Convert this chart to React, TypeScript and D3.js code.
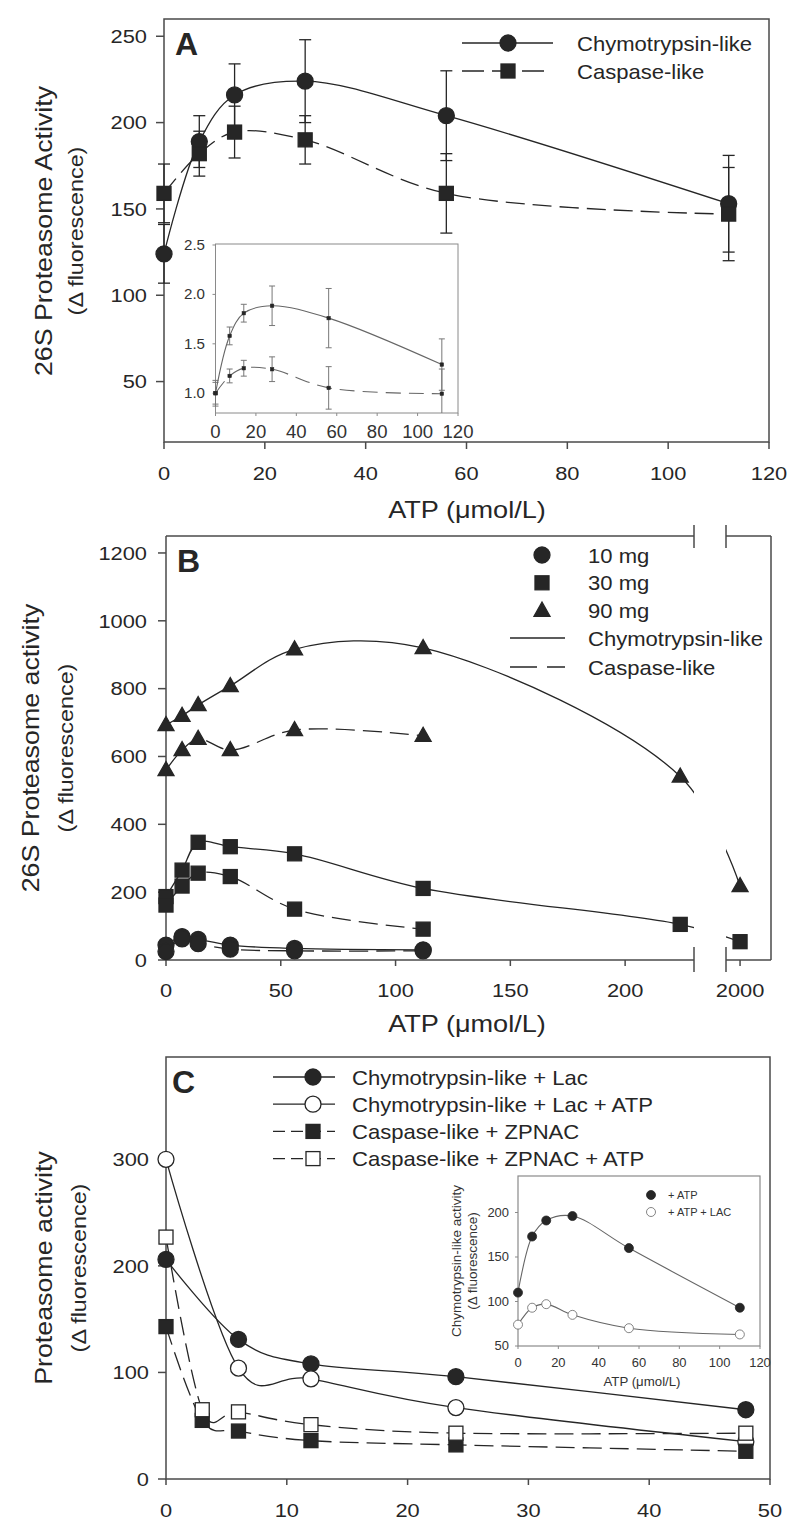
import React from 'react';
import * as d3 from 'd3';

// ---------------- Panel A data ----------------
const A_ATP = [0, 7, 14, 28, 56, 112];
const A_CHYMO = [124, 189, 216, 224, 204, 153];
const A_CHYMO_SE = [17, 15, 18, 24, 26, 28];
const A_CASP = [159, 182, 194.5, 190, 159, 147];
const A_CASP_SE = [17, 13, 15, 14, 23, 27];
const A_XTICKS = [0, 20, 40, 60, 80, 100, 120];
const A_YTICKS = [50, 100, 150, 200, 250];

// Panel A inset
const AI_CHYMO = [1.0, 1.58, 1.81, 1.885, 1.76, 1.29];
const AI_CHYMO_SE = [0.13, 0.09, 0.09, 0.2, 0.3, 0.26];
const AI_CASP = [1.0, 1.175, 1.253, 1.243, 1.054, 0.995];
const AI_CASP_SE = [0.11, 0.07, 0.08, 0.125, 0.215, 0.25];
const AI_XTICKS = [0, 20, 40, 60, 80, 100, 120];
const AI_YTICKS = [1.0, 1.5, 2.0, 2.5];

// ---------------- Panel B data ----------------
const B_ATP = [0, 7, 14, 28, 56, 112, 224, 2000];
const B_10MG_CHYMO = [44, 69, 61, 44, 34, 30];
const B_10MG_CASP = [25, 62, 48, 32, 27, 27];
const B_30MG_CHYMO = [187, 265, 347, 334, 313, 211, 105, 54];
const B_30MG_CASP = [162, 218, 256, 246, 150, 91];
const B_90MG_CHYMO = [693, 720, 752, 808, 916, 920, 541, 218];
const B_90MG_CASP = [560, 619, 652, 619, 678, 661];
const B_XTICKS = [0, 50, 100, 150, 200];
const B_XTICKS_HIGH = [2000];
const B_YTICKS = [0, 200, 400, 600, 800, 1000, 1200];
const B_LEGEND_DOSE = ['10 mg', '30 mg', '90 mg'];

// ---------------- Panel C data ----------------
const C_TIME_LAC = [0, 6, 12, 24, 48];
const C_CHYMO_LAC = [206, 131, 108, 96, 65];
const C_CHYMO_LAC_ATP = [300, 104, 94, 67, 35];
const C_TIME_ZPNAC = [0, 3, 6, 12, 24, 48];
const C_CASP_ZPNAC = [143, 55, 45, 36, 32, 26];
const C_CASP_ZPNAC_ATP = [227, 65, 63, 51, 43, 43];
const C_XTICKS = [0, 10, 20, 30, 40, 50];
const C_YTICKS = [0, 100, 200, 300];
const C_LEGEND = [
  'Chymotrypsin-like + Lac',
  'Chymotrypsin-like + Lac + ATP',
  'Caspase-like + ZPNAC',
  'Caspase-like + ZPNAC + ATP',
];

// Panel C inset
const CI_ATP = [0, 7, 14, 27, 55, 110];
const CI_PLUS_ATP = [110, 173, 191, 196, 160, 93];
const CI_PLUS_ATP_LAC = [74, 93, 97, 85, 70, 63];
const CI_XTICKS = [0, 20, 40, 60, 80, 100, 120];
const CI_YTICKS = [50, 100, 150, 200];

// ---------------- styling ----------------
const FONT = "'Liberation Sans', Arial, Helvetica, sans-serif";
const INK = '#262626';
const AXIS = '#4a4a4a';
const DASH = '19,8';

type TP = {
  x: number; y: number; size: number; sx?: number; anchor?: string; weight?: string;
  rotate?: number; fill?: string; dy?: string; children: React.ReactNode;
};
function T({ x, y, size, sx = 1, anchor = 'start', weight = 'normal', rotate = 0, fill = INK, dy, children }: TP) {
  const tr = `translate(${x},${y})${rotate ? ` rotate(${rotate})` : ''} scale(${sx},1)`;
  return (
    <text transform={tr} fontSize={size} textAnchor={anchor as any} fontWeight={weight}
      fill={fill} fontFamily={FONT} dy={dy}>{children}</text>
  );
}

function Mk({ shape, x, y, s, fill = INK, stroke = INK, sw = 1.3 }:
  { shape: string; x: number; y: number; s: number; fill?: string; stroke?: string; sw?: number }) {
  if (shape === 'circle') return <circle cx={x} cy={y} r={s / 2} fill={fill} stroke={stroke} strokeWidth={sw} />;
  if (shape === 'square') return <rect x={x - s / 2} y={y - s / 2} width={s} height={s} fill={fill} stroke={stroke} strokeWidth={sw} />;
  const h = s * 0.88;
  return <path d={`M${x},${y - h * 0.6}L${x + s / 2},${y + h * 0.4}L${x - s / 2},${y + h * 0.4}Z`} fill={fill} stroke={stroke} strokeWidth={sw} />;
}

function pathOf(xs: number[], ys: number[], fx: (v: number) => number, fy: (v: number) => number, alpha = 0.5) {
  const pts: [number, number][] = ys.map((v, i) => [fx(xs[i]), fy(v)]);
  return d3.line().curve(d3.curveCatmullRom.alpha(alpha))(pts) || '';
}

function ErrBars({ xs, ys, se, fx, fy, cap, color, sw }:
  { xs: number[]; ys: number[]; se: number[]; fx: any; fy: any; cap: number; color: string; sw: number }) {
  return (
    <g stroke={color} strokeWidth={sw} fill="none">
      {ys.map((v, i) => {
        const x = fx(xs[i]);
        const y1 = fy(v + se[i]);
        const y2 = fy(v - se[i]);
        return (
          <g key={i}>
            <line x1={x} x2={x} y1={y1} y2={y2} />
            <line x1={x - cap} x2={x + cap} y1={y1} y2={y1} />
            <line x1={x - cap} x2={x + cap} y1={y2} y2={y2} />
          </g>
        );
      })}
    </g>
  );
}

// ---------------- Panel A ----------------
function PanelA() {
  const x = d3.scaleLinear().domain([0, 120]).range([164, 769]);
  const y = d3.scaleLinear().domain([15, 260]).range([442, 19]);
  const ix = d3.scaleLinear().domain([0, 120]).range([215.5, 458]);
  const iy = d3.scaleLinear().domain([0.8, 2.51]).range([413, 244]);
  return (
    <g>
      <rect x={164} y={19} width={605} height={423} fill="none" stroke={AXIS} strokeWidth={1.5} />
      {A_YTICKS.map(v => (
        <g key={v}>
          <line x1={156} x2={164} y1={y(v)} y2={y(v)} stroke={AXIS} strokeWidth={1.5} />
          <T x={147} y={y(v)} size={19} sx={1.15} anchor="end" dy="0.36em">{v}</T>
        </g>
      ))}
      {A_XTICKS.map(v => (
        <g key={v}>
          <line x1={x(v)} x2={x(v)} y1={442} y2={449} stroke={AXIS} strokeWidth={1.5} />
          <T x={x(v)} y={480} size={19} sx={1.15} anchor="middle">{v}</T>
        </g>
      ))}
      <T x={467} y={518} size={24} sx={1.13} anchor="middle">ATP (μmol/L)</T>
      <T x={52} y={231} size={23.5} sx={1.14} anchor="middle" rotate={-90}>26S Proteasome Activity</T>
      <T x={83} y={231} size={20.5} sx={1.14} anchor="middle" rotate={-90}>(Δ fluorescence)</T>
      <T x={175} y={55} size={32} weight="bold">A</T>

      {/* inset */}
      <rect x={215.5} y={244} width={242.5} height={169} fill="#fff" stroke="#8a8a8a" strokeWidth={1} />
      {AI_YTICKS.map(v => (
        <g key={v}>
          <line x1={212.5} x2={215.5} y1={iy(v)} y2={iy(v)} stroke="#8a8a8a" strokeWidth={1} />
          <T x={205} y={iy(v)} size={14} sx={1.08} anchor="end" dy="0.36em" fill="#333">{v.toFixed(1)}</T>
        </g>
      ))}
      {AI_XTICKS.map(v => (
        <g key={v}>
          <line x1={ix(v)} x2={ix(v)} y1={413} y2={416} stroke="#8a8a8a" strokeWidth={1} />
          <T x={ix(v)} y={438} size={18} sx={1.03} anchor="middle" fill="#333">{v}</T>
        </g>
      ))}
      <clipPath id="aiClip"><rect x={205} y={240} width={260} height={173} /></clipPath>
      <g clipPath="url(#aiClip)">
        <ErrBars xs={A_ATP} ys={AI_CHYMO} se={AI_CHYMO_SE} fx={ix} fy={iy} cap={3} color="#777" sw={1} />
        <ErrBars xs={A_ATP} ys={AI_CASP} se={AI_CASP_SE} fx={ix} fy={iy} cap={3} color="#777" sw={1} />
        <path d={pathOf(A_ATP, AI_CHYMO, ix, iy)} fill="none" stroke="#666" strokeWidth={1.1} />
        <path d={pathOf(A_ATP, AI_CASP, ix, iy)} fill="none" stroke="#666" strokeWidth={1.1} strokeDasharray="15,8" />
        {A_ATP.map((v, i) => <Mk key={'c' + i} shape="square" x={ix(v)} y={iy(AI_CHYMO[i])} s={3.5} sw={0.5} />)}
        {A_ATP.map((v, i) => <Mk key={'s' + i} shape="square" x={ix(v)} y={iy(AI_CASP[i])} s={3.5} sw={0.5} />)}
      </g>

      {/* main data */}
      <ErrBars xs={A_ATP} ys={A_CHYMO} se={A_CHYMO_SE} fx={x} fy={y} cap={6} color={INK} sw={1.3} />
      <ErrBars xs={A_ATP} ys={A_CASP} se={A_CASP_SE} fx={x} fy={y} cap={6} color={INK} sw={1.3} />
      <path d={pathOf(A_ATP, A_CHYMO, x, y)} fill="none" stroke={INK} strokeWidth={1.3} />
      <path d={pathOf(A_ATP, A_CASP, x, y)} fill="none" stroke={INK} strokeWidth={1.3} strokeDasharray={DASH} />
      {A_ATP.map((v, i) => <Mk key={'c' + i} shape="circle" x={x(v)} y={y(A_CHYMO[i])} s={16} />)}
      {A_ATP.map((v, i) => <Mk key={'s' + i} shape="square" x={x(v)} y={y(A_CASP[i])} s={14} />)}

      {/* legend */}
      <line x1={462} x2={553} y1={43} y2={43} stroke={INK} strokeWidth={1.3} />
      <Mk shape="circle" x={508} y={43} s={16} />
      <line x1={462} x2={548} y1={71} y2={71} stroke={INK} strokeWidth={1.3} strokeDasharray="22,8" />
      <Mk shape="square" x={508} y={71} s={14} />
      <T x={577} y={43} size={21} sx={1.05} dy="0.36em">Chymotrypsin-like</T>
      <T x={577} y={71} size={21} sx={1.05} dy="0.36em">Caspase-like</T>
    </g>
  );
}

// ---------------- Panel B ----------------
function PanelB() {
  const x1 = d3.scaleLinear().domain([0, 230]).range([166, 694]);
  const x2 = d3.scaleLinear().domain([1950, 2110]).range([726, 771]);
  const fx = (v: number) => (v > 1000 ? x2(v) : x1(v));
  const y = d3.scaleLinear().domain([0, 1250]).range([960, 536]);
  const series = [
    { ys: B_10MG_CHYMO, shape: 'circle', s: 16, dash: false },
    { ys: B_10MG_CASP, shape: 'circle', s: 16, dash: true },
    { ys: B_30MG_CHYMO, shape: 'square', s: 14, dash: false },
    { ys: B_30MG_CASP, shape: 'square', s: 14, dash: true },
    { ys: B_90MG_CHYMO, shape: 'triangle', s: 16, dash: false },
    { ys: B_90MG_CASP, shape: 'triangle', s: 16, dash: true },
  ];
  return (
    <g>
      <clipPath id="bClip">
        <rect x={160} y={530} width={534} height={440} />
        <rect x={726} y={530} width={50} height={440} />
      </clipPath>
      {/* frame */}
      <g stroke={AXIS} strokeWidth={1.5} fill="none">
        <line x1={166} x2={166} y1={536} y2={960} />
        <line x1={166} x2={694} y1={536} y2={536} />
        <line x1={726} x2={771} y1={536} y2={536} />
        <line x1={771} x2={771} y1={536} y2={960} />
        <line x1={166} x2={694} y1={960} y2={960} />
        <line x1={726} x2={771} y1={960} y2={960} />
        <line x1={694} x2={694} y1={525} y2={548} />
        <line x1={726} x2={726} y1={525} y2={548} />
        <line x1={694} x2={694} y1={947} y2={972} />
        <line x1={726} x2={726} y1={947} y2={972} />
      </g>
      {B_YTICKS.map(v => (
        <g key={v}>
          <line x1={158} x2={166} y1={y(v)} y2={y(v)} stroke={AXIS} strokeWidth={1.5} />
          <T x={147} y={y(v)} size={19} sx={1.15} anchor="end" dy="0.36em">{v}</T>
        </g>
      ))}
      {B_XTICKS.map(v => (
        <g key={v}>
          <line x1={x1(v)} x2={x1(v)} y1={960} y2={966} stroke={AXIS} strokeWidth={1.5} />
          <T x={x1(v)} y={997} size={19} sx={1.15} anchor="middle">{v}</T>
        </g>
      ))}
      {B_XTICKS_HIGH.map(v => (
        <g key={v}>
          <line x1={x2(v)} x2={x2(v)} y1={960} y2={966} stroke={AXIS} strokeWidth={1.5} />
          <T x={x2(v)} y={997} size={19} sx={1.15} anchor="middle">{v}</T>
        </g>
      ))}
      <T x={467} y={1032} size={24} sx={1.13} anchor="middle">ATP (μmol/L)</T>
      <T x={39} y={748} size={23.5} sx={1.14} anchor="middle" rotate={-90}>26S Proteasome activity</T>
      <T x={73} y={748} size={20.5} sx={1.14} anchor="middle" rotate={-90}>(Δ fluorescence)</T>
      <T x={177} y={572} size={32} weight="bold">B</T>

      <g clipPath="url(#bClip)">
        {series.map((s, k) => (
          <path key={k} d={pathOf(B_ATP, s.ys, fx, y)} fill="none" stroke={INK} strokeWidth={1.3}
            strokeDasharray={s.dash ? DASH : undefined} />
        ))}
      </g>
      {series.map((s, k) => (
        <g key={k}>
          {s.ys.map((v, i) => <Mk key={i} shape={s.shape} x={fx(B_ATP[i])} y={y(v)} s={s.s} />)}
        </g>
      ))}

      {/* legend */}
      {['circle', 'square', 'triangle'].map((sh, i) => (
        <g key={sh}>
          <Mk shape={sh} x={542} y={555 + i * 27.8} s={sh === 'square' ? 14 : 16} />
          <T x={588} y={555 + i * 27.8} size={21} sx={1.05} dy="0.36em">{B_LEGEND_DOSE[i]}</T>
        </g>
      ))}
      <line x1={510} x2={565} y1={638} y2={638} stroke={INK} strokeWidth={1.3} />
      <T x={588} y={638} size={21} sx={1.05} dy="0.36em">Chymotrypsin-like</T>
      <line x1={510} x2={565} y1={667} y2={667} stroke={INK} strokeWidth={1.3} strokeDasharray="27,10" />
      <T x={588} y={667} size={21} sx={1.05} dy="0.36em">Caspase-like</T>
    </g>
  );
}

// ---------------- Panel C ----------------
function PanelC() {
  const x = d3.scaleLinear().domain([0, 50]).range([166, 770]);
  const y = d3.scaleLinear().domain([0, 396]).range([1479, 1057]);
  const ix = d3.scaleLinear().domain([0, 120]).range([518, 760]);
  const iy = d3.scaleLinear().domain([50, 241]).range([1346, 1176]);
  const series = [
    { xs: C_TIME_LAC, ys: C_CHYMO_LAC, shape: 'circle', filled: true, dash: false },
    { xs: C_TIME_LAC, ys: C_CHYMO_LAC_ATP, shape: 'circle', filled: false, dash: false },
    { xs: C_TIME_ZPNAC, ys: C_CASP_ZPNAC, shape: 'square', filled: true, dash: true },
    { xs: C_TIME_ZPNAC, ys: C_CASP_ZPNAC_ATP, shape: 'square', filled: false, dash: true },
  ];
  return (
    <g>
      <rect x={166} y={1057} width={604} height={422} fill="none" stroke={AXIS} strokeWidth={1.5} />
      {C_YTICKS.map(v => (
        <g key={v}>
          <line x1={158} x2={166} y1={y(v)} y2={y(v)} stroke={AXIS} strokeWidth={1.5} />
          <T x={149} y={y(v)} size={19} sx={1.15} anchor="end" dy="0.36em">{v}</T>
        </g>
      ))}
      {C_XTICKS.map(v => (
        <g key={v}>
          <line x1={x(v)} x2={x(v)} y1={1479} y2={1485} stroke={AXIS} strokeWidth={1.5} />
          <T x={x(v)} y={1517} size={19} sx={1.15} anchor="middle">{v}</T>
        </g>
      ))}
      <T x={52} y={1268} size={23.5} sx={1.14} anchor="middle" rotate={-90}>Proteasome activity</T>
      <T x={86} y={1268} size={20.5} sx={1.14} anchor="middle" rotate={-90}>(Δ fluorescence)</T>
      <T x={172} y={1093} size={32} weight="bold">C</T>

      {series.map((s, k) => (
        <path key={k} d={pathOf(s.xs, s.ys, x, y, 0)} fill="none" stroke={INK} strokeWidth={1.3}
          strokeDasharray={s.dash ? DASH : undefined} />
      ))}
      {series.map((s, k) => (
        <g key={k}>
          {s.ys.map((v, i) => (
            <Mk key={i} shape={s.shape} x={x(s.xs[i])} y={y(v)} s={s.shape === 'circle' ? 16 : 14}
              fill={s.filled ? INK : '#fff'} />
          ))}
        </g>
      ))}

      {/* legend */}
      {series.map((s, i) => {
        const ly = 1077 + i * 27.2;
        return (
          <g key={i}>
            <line x1={273} x2={335} y1={ly} y2={ly} stroke={INK} strokeWidth={1.3}
              strokeDasharray={s.dash ? '12,6' : undefined} />
            <Mk shape={s.shape} x={313} y={ly} s={s.shape === 'circle' ? 16 : 14} fill={s.filled ? INK : '#fff'} />
            <T x={352} y={ly} size={21} sx={1.05} dy="0.36em">{C_LEGEND[i]}</T>
          </g>
        );
      })}

      {/* inset */}
      <rect x={518} y={1176} width={242} height={170} fill="#fff" stroke="#8a8a8a" strokeWidth={1.2} />
      {CI_YTICKS.map(v => (
        <g key={v}>
          <line x1={515} x2={518} y1={iy(v)} y2={iy(v)} stroke="#8a8a8a" strokeWidth={1} />
          <T x={509} y={iy(v)} size={12} sx={1.08} anchor="end" dy="0.36em" fill="#333">{v}</T>
        </g>
      ))}
      {CI_XTICKS.map(v => (
        <g key={v}>
          <line x1={ix(v)} x2={ix(v)} y1={1346} y2={1349} stroke="#8a8a8a" strokeWidth={1} />
          <T x={ix(v)} y={1367} size={12} sx={1.08} anchor="middle" fill="#333">{v}</T>
        </g>
      ))}
      <T x={642} y={1386} size={12.5} sx={1.06} anchor="middle" fill="#333">ATP (μmol/L)</T>
      <T x={461} y={1261} size={12.5} sx={1.08} anchor="middle" rotate={-90} fill="#333">Chymotrypsin-like activity</T>
      <T x={477} y={1261} size={12.5} sx={1.08} anchor="middle" rotate={-90} fill="#333">(Δ fluorescence)</T>
      <path d={pathOf(CI_ATP, CI_PLUS_ATP, ix, iy)} fill="none" stroke="#666" strokeWidth={1.1} />
      <path d={pathOf(CI_ATP, CI_PLUS_ATP_LAC, ix, iy)} fill="none" stroke="#666" strokeWidth={1.1} />
      {CI_ATP.map((v, i) => <Mk key={'a' + i} shape="circle" x={ix(v)} y={iy(CI_PLUS_ATP[i])} s={9} sw={0.8} />)}
      {CI_ATP.map((v, i) => <Mk key={'b' + i} shape="circle" x={ix(v)} y={iy(CI_PLUS_ATP_LAC[i])} s={9} sw={0.8} fill="#fff" stroke="#666" />)}
      <Mk shape="circle" x={651} y={1195} s={9} sw={0.8} />
      <Mk shape="circle" x={651} y={1212} s={9} sw={0.8} fill="#fff" stroke="#666" />
      <T x={668} y={1195} size={10.5} sx={1.05} dy="0.36em" fill="#333">+ ATP</T>
      <T x={668} y={1212} size={10.5} sx={1.05} dy="0.36em" fill="#333">+ ATP + LAC</T>
    </g>
  );
}

export default function App() {
  return (
    <svg width={800} height={1530} viewBox="0 0 800 1530"
      style={{ position: 'absolute', left: 0, top: 0, background: '#fff' }}>
      <rect x={0} y={0} width={800} height={1530} fill="#fff" />
      <PanelA />
      <PanelB />
      <PanelC />
    </svg>
  );
}
